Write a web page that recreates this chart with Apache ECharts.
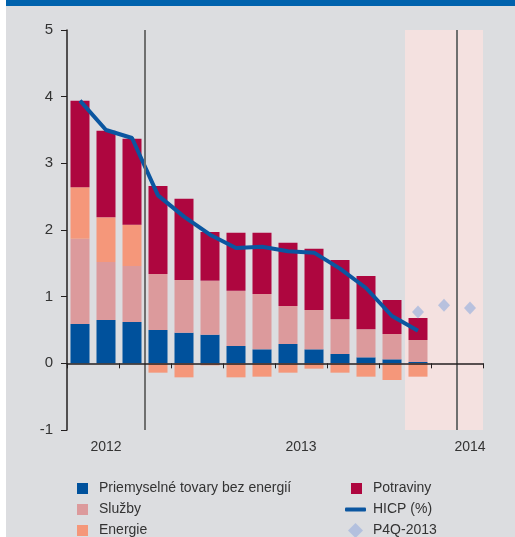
<!DOCTYPE html>
<html>
<head>
<meta charset="utf-8">
<script src="https://cdn.jsdelivr.net/npm/echarts@6/dist/echarts.min.js"></script>
<style>
    html, body { margin: 0; padding: 0; background: #fff; }
    #chart { width: 515px; height: 537px; }
</style>
</head>
<body>
<div id="chart"></div>
<script>
// mesiace 10/2012 - 01/2014
const months = ["10/12", "11/12", "12/12", "01/13", "02/13", "03/13", "04/13", "05/13",
    "06/13", "07/13", "08/13", "09/13", "10/13", "11/13", "12/13", "01/14"];

const industrial = [0.59, 0.65, 0.62, 0.50, 0.46, 0.43, 0.26, 0.21, 0.29, 0.21, 0.14, 0.09, 0.06, 0.02, null, null];
const services = [1.28, 0.87, 0.84, 0.84, 0.79, 0.81, 0.83, 0.83, 0.57, 0.59, 0.52, 0.42, 0.38, 0.33, null, null];
const energy = [0.77, 0.67, 0.62, -0.14, -0.21, -0.03, -0.21, -0.20, -0.14, -0.08, -0.14, -0.20, -0.25, -0.20, null, null];
const food = [1.30, 1.30, 1.29, 1.32, 1.22, 0.73, 0.87, 0.92, 0.95, 0.92, 0.89, 0.80, 0.51, 0.33, null, null];
const hicp = [3.94, 3.50, 3.38, 2.52, 2.20, 1.93, 1.73, 1.75, 1.68, 1.66, 1.42, 1.13, 0.71, 0.49, null, null];
const forecast = [null, null, null, null, null, null, null, null, null, null, null, null, null, 0.77, 0.87, 0.83];

const yearLabels = ["2012", "2013", "2014"];
const yearLabelPos = [1.5, 9, 15.5];
const yearBreaks = [3, 15];
const forecastRange = [13, 16];

const names = ["Priemyselné tovary bez energií", "Služby", "Energie", "Potraviny", "HICP (%)", "P4Q-2013"];
const colors = {
    industrial: "#00519c",
    services: "#dc9a9c",
    energy: "#f5977a",
    food: "#ae063f",
    hicp: "#0b56a0",
    forecast: "#a9b9dd"
};

const font = "'Liberation Sans', Roboto, sans-serif";
const textColor = "#333";

const chart = echarts.init(document.getElementById("chart"));

function barSeries(name, data, color) {
    return {
        name: name,
        type: "bar",
        stack: "total",
        barWidth: 19,
        z: 2,
        itemStyle: { color: color },
        data: data
    };
}

function legendBox(data, left, top, w, h, pad) {
    return {
        data: data,
        orient: "vertical",
        left: left,
        top: top,
        height: 90,
        padding: 0,
        itemWidth: w,
        itemHeight: h,
        itemGap: 0,
        selectedMode: false,
        textStyle: {
            color: textColor,
            fontFamily: font,
            fontSize: 14,
            lineHeight: 21,
            padding: [0, 0, 0, pad]
        }
    };
}

chart.setOption({
    backgroundColor: "#fff",
    animation: false,
    graphic: [
        { type: "rect", z: -10, shape: { x: 6, y: 0, width: 509, height: 537 }, style: { fill: "#dcdde0" } },
        { type: "rect", z: -10, shape: { x: 6, y: 0, width: 509, height: 6 }, style: { fill: "#0062ad" } }
    ],
    grid: {
        left: 67,
        right: 32,
        top: 30,
        bottom: 107
    },
    legend: [
        legendBox([{ name: names[0], icon: "rect" }, { name: names[1], icon: "rect" }, { name: names[2], icon: "rect" }], 77, 478, 11, 11, 6),
        legendBox([{ name: names[3], icon: "rect" }], 351, 478, 11, 11, 6),
        legendBox([{ name: names[4], icon: "roundRect" }], 345, 499, 21, 4, 2),
        legendBox([{ name: names[5], icon: "diamond" }], 348, 520, 15, 15, 5)
    ],
    xAxis: [
        {
            type: "category",
            data: months,
            z: 10,
            axisLine: { onZero: true, lineStyle: { color: "#231f20", width: 1.5 } },
            axisTick: { show: true, length: 5, lineStyle: { color: "#231f20" } },
            axisLabel: { show: false },
            splitLine: { show: false }
        },
        {
            type: "value",
            position: "bottom",
            min: 0,
            max: 16,
            interval: 0.5,
            axisLine: { show: false, onZero: false },
            axisTick: { show: false },
            splitLine: { show: false },
            axisLabel: {
                margin: 10,
                color: textColor,
                fontFamily: font,
                fontSize: 14,
                formatter: function(v) {
                    let i = yearLabelPos.indexOf(v);
                    return i >= 0 ? yearLabels[i] : "";
                }
            }
        }
    ],
    yAxis: {
        type: "value",
        min: -1,
        max: 5,
        interval: 1,
        z: 10,
        axisLine: { show: true, lineStyle: { color: "#231f20", width: 1.5 } },
        axisTick: { show: true, length: 6, lineStyle: { color: "#231f20" } },
        axisLabel: { margin: 14, color: textColor, fontFamily: font, fontSize: 15 },
        splitLine: { show: false }
    },
    series: [
        {
            name: "helper",
            type: "line",
            xAxisIndex: 1,
            data: [],
            z: 1,
            silent: true,
            markArea: {
                silent: true,
                itemStyle: { color: "#f4e1e0" },
                data: [[{ xAxis: forecastRange[0] }, { xAxis: forecastRange[1] }]]
            },
            markLine: {
                silent: true,
                symbol: "none",
                label: { show: false },
                lineStyle: { color: "#6f6f6f", width: 2, type: "solid" },
                data: yearBreaks.map(v => ({ xAxis: v }))
            }
        },
        barSeries(names[0], industrial, colors.industrial),
        barSeries(names[1], services, colors.services),
        barSeries(names[2], energy, colors.energy),
        barSeries(names[3], food, colors.food),
        {
            name: names[4],
            type: "line",
            z: 3,
            symbol: "none",
            itemStyle: { color: colors.hicp },
            lineStyle: { color: colors.hicp, width: 4 },
            data: hicp
        },
        {
            name: names[5],
            type: "scatter",
            z: 4,
            symbol: "diamond",
            symbolSize: [12, 13],
            itemStyle: { color: colors.forecast },
            data: forecast
        }
    ]
});
</script>
</body>
</html>
